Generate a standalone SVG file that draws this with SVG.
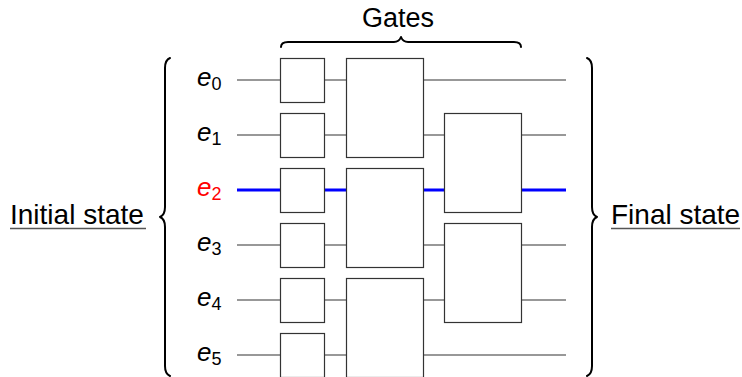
<svg xmlns="http://www.w3.org/2000/svg" width="742" height="377" viewBox="0 0 742 377">
<style>
.wire{stroke:#333;stroke-width:1.2;fill:none}
.hl{stroke:#0000ff;stroke-width:3;fill:none}
.box{fill:#fff;stroke:#333;stroke-width:1.2}
.brace{fill:none;stroke:#000;stroke-width:2;stroke-linecap:round;stroke-linejoin:round}
.lbl{font-family:"Liberation Sans",Arial,sans-serif;fill:#000}
.e{font-family:"Liberation Sans",Arial,sans-serif;font-style:italic;font-size:26px;fill:#000}
.sub{font-style:normal;font-size:18px}
.ul{stroke:#555;stroke-width:1.5}
</style>
<rect width="742" height="377" fill="#fff"/>
<g id="connectors">
<line class="wire" x1="237" y1="80" x2="566" y2="80"/>
<line class="wire" x1="237" y1="135" x2="566" y2="135"/>
<line class="hl" x1="237" y1="190" x2="566" y2="190"/>
<line class="wire" x1="237" y1="245" x2="566" y2="245"/>
<line class="wire" x1="237" y1="300" x2="566" y2="300"/>
<line class="wire" x1="237" y1="355" x2="566" y2="355"/>
</g>
<g id="g1a"><rect class="box" x="280.5" y="58.5" width="44" height="44"/></g>
<g id="g1b"><rect class="box" x="280.5" y="113.5" width="44" height="44"/></g>
<g id="g1c"><rect class="box" x="280.5" y="168.5" width="44" height="44"/></g>
<g id="g1d"><rect class="box" x="280.5" y="223.5" width="44" height="44"/></g>
<g id="g1e"><rect class="box" x="280.5" y="278.5" width="44" height="44"/></g>
<g id="g1f"><rect class="box" x="280.5" y="333.5" width="44" height="44"/></g>
<g id="g2a"><rect class="box" x="346.5" y="58.5" width="77" height="99"/></g>
<g id="g2b"><rect class="box" x="346.5" y="168.5" width="77" height="99"/></g>
<g id="g2c"><rect class="box" x="346.5" y="278.5" width="77" height="99"/></g>
<g id="g3a"><rect class="box" x="444.5" y="113.5" width="77" height="99"/></g>
<g id="g3b"><rect class="box" x="444.5" y="223.5" width="77" height="99"/></g>
<g id="labels">
<text class="e" x="197" y="86">e<tspan class="sub" dy="4">0</tspan></text>
<text class="e" x="197" y="141">e<tspan class="sub" dy="4">1</tspan></text>
<text class="e" x="197" y="196" style="fill:#ff0000">e<tspan class="sub" dy="4">2</tspan></text>
<text class="e" x="197" y="251">e<tspan class="sub" dy="4">3</tspan></text>
<text class="e" x="197" y="306">e<tspan class="sub" dy="4">4</tspan></text>
<text class="e" x="197" y="361">e<tspan class="sub" dy="4">5</tspan></text>
</g>
<g id="gates-label">
<path class="brace" d="M281,47 Q281,42 288,42 L394,42 Q399,42 401,37 Q403,42 408,42 L514,42 Q521,42 521,47"/>
<text class="lbl" x="398" y="27" font-size="27" text-anchor="middle">Gates</text>
</g>
<g id="initial-state">
<path class="brace" d="M170,58 Q165,60 165,68 L165,207 Q165,215 160,217 Q165,219 165,227 L165,366 Q165,374 170,376"/>
<text class="lbl" x="10" y="224" font-size="28">Initial state</text>
<line class="ul" x1="10" y1="228.5" x2="146" y2="228.5"/>
</g>
<g id="final-state">
<path class="brace" d="M587,58 Q592,60 592,68 L592,207 Q592,215 597,217 Q592,219 592,227 L592,366 Q592,374 587,376"/>
<text class="lbl" x="611" y="224" font-size="28">Final state</text>
<line class="ul" x1="611" y1="228.5" x2="740" y2="228.5"/>
</g>
</svg>
